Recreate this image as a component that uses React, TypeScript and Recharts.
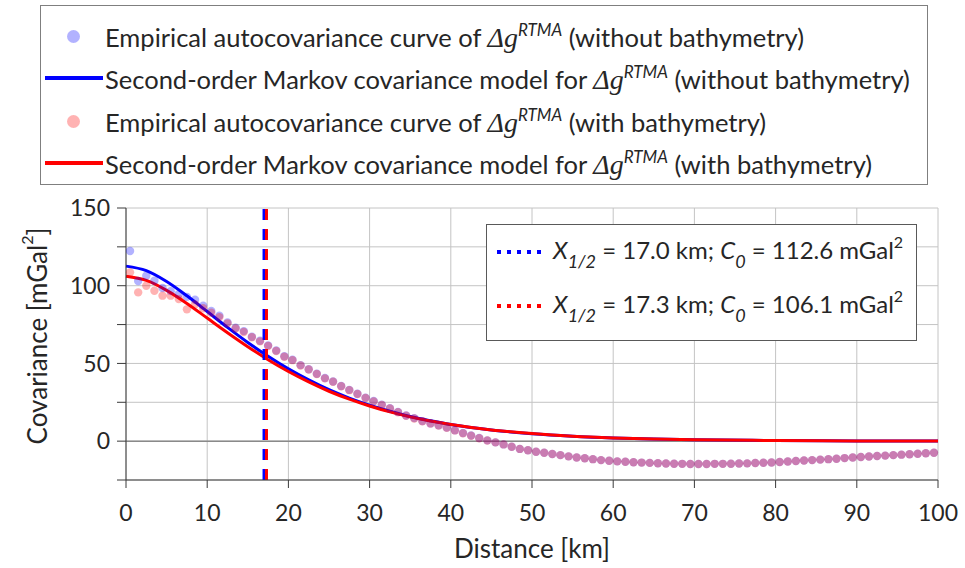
import React from "react";
import {
  ComposedChart,
  Scatter,
  Line,
  XAxis,
  YAxis,
  CartesianGrid,
  ReferenceLine,
  Label,
} from "recharts";

const FONT = "Lato, 'Open Sans', sans-serif";
const MATH = "'Liberation Serif', 'DejaVu Serif', serif";
const TEXT = "#262626";
const BLUE = "#0000ff";
const RED = "#ff0000";

// lag distances of the empirical autocovariance (km)
const lagKm = [
  0.5, 1.5, 2.5, 3.5, 4.5, 5.5, 6.5, 7.5, 8.5, 9.5,
  10.5, 11.5, 12.5, 13.5, 14.5, 15.5, 16.5, 17.5, 18.5, 19.5,
  20.5, 21.5, 22.5, 23.5, 24.5, 25.5, 26.5, 27.5, 28.5, 29.5,
  30.5, 31.5, 32.5, 33.5, 34.5, 35.5, 36.5, 37.5, 38.5, 39.5,
  40.5, 41.5, 42.5, 43.5, 44.5, 45.5, 46.5, 47.5, 48.5, 49.5,
  50.5, 51.5, 52.5, 53.5, 54.5, 55.5, 56.5, 57.5, 58.5, 59.5,
  60.5, 61.5, 62.5, 63.5, 64.5, 65.5, 66.5, 67.5, 68.5, 69.5,
  70.5, 71.5, 72.5, 73.5, 74.5, 75.5, 76.5, 77.5, 78.5, 79.5,
  80.5, 81.5, 82.5, 83.5, 84.5, 85.5, 86.5, 87.5, 88.5, 89.5,
  90.5, 91.5, 92.5, 93.5, 94.5, 95.5, 96.5, 97.5, 98.5, 99.5,
];

// empirical covariance, without bathymetry (mGal^2)
const covNoBathy = [
  122.3, 103.0, 106.4, 103.2, 98.5, 96.5, 94.5, 92.8, 91.0, 87.2,
  83.7, 80.7, 76.4, 73.0, 70.8, 67.2, 64.6, 61.6, 58.3, 54.6,
  52.4, 48.9, 46.3, 43.4, 40.6, 38.4, 35.5, 33.0, 30.5, 28.0,
  25.8, 23.5, 21.2, 18.8, 16.5, 14.8, 12.9, 11.4, 10.2, 8.7,
  7.0, 5.2, 3.6, 2.0, 0.5, -0.8, -2.1, -3.6, -5.0, -5.9,
  -6.8, -7.5, -8.3, -9.0, -9.8, -10.5, -11.0, -11.6, -12.2, -12.6,
  -13.0, -13.3, -13.6, -13.8, -14.0, -14.2, -14.4, -14.5, -14.6, -14.7,
  -14.7, -14.7, -14.6, -14.6, -14.5, -14.4, -14.3, -14.1, -13.9, -13.7,
  -13.4, -13.1, -12.8, -12.5, -12.2, -11.9, -11.6, -11.3, -10.9, -10.5,
  -10.2, -9.9, -9.6, -9.3, -9.0, -8.7, -8.4, -8.1, -7.8, -7.5,
];

// empirical covariance, with bathymetry (mGal^2)
const covBathy = [
  108.6, 95.7, 100.0, 96.8, 93.6, 93.6, 91.4, 84.8, 88.0, 85.5,
  82.6, 79.8, 75.8, 72.5, 70.2, 66.8, 64.2, 61.2, 58.0, 54.3,
  52.1, 48.7, 46.1, 43.2, 40.4, 38.2, 35.3, 32.8, 30.3, 27.8,
  25.6, 23.3, 21.0, 18.6, 16.3, 14.6, 12.8, 11.3, 10.1, 8.6,
  6.9, 5.1, 3.5, 1.9, 0.4, -0.8, -2.1, -3.6, -5.0, -5.9,
  -6.8, -7.5, -8.3, -9.0, -9.8, -10.5, -11.0, -11.6, -12.2, -12.6,
  -13.0, -13.3, -13.6, -13.8, -14.0, -14.2, -14.4, -14.5, -14.6, -14.7,
  -14.7, -14.7, -14.6, -14.6, -14.5, -14.4, -14.3, -14.1, -13.9, -13.7,
  -13.4, -13.1, -12.8, -12.5, -12.2, -11.9, -11.6, -11.3, -10.9, -10.5,
  -10.2, -9.9, -9.6, -9.3, -9.0, -8.7, -8.4, -8.1, -7.8, -7.5,
];

// second-order Markov model curves sampled along distance
const modelKm = [
  0, 2.5, 5, 7.5, 10, 12.5, 15, 17.5, 20, 22.5, 25, 27.5, 30, 32.5, 35,
  37.5, 40, 45, 50, 55, 60, 65, 70, 80, 90, 100,
];
const modelNoBathy = [
  112.6, 109.7, 102.7, 93.5, 83.4, 73.2, 63.5, 54.6, 46.5, 39.4, 33.1,
  27.7, 23.1, 19.2, 15.8, 13.1, 10.7, 7.2, 4.8, 3.2, 2.1, 1.4, 0.9, 0.4,
  0.15, 0.06,
];
const modelBathy = [
  106.1, 103.4, 97.0, 88.6, 79.2, 69.8, 60.8, 52.4, 44.8, 38.1, 32.1,
  27.0, 22.6, 18.8, 15.6, 12.9, 10.7, 7.2, 4.9, 3.2, 2.1, 1.4, 0.9, 0.4,
  0.17, 0.07,
];

// correlation lengths (km)
const halfNoBathy = 17.0;
const halfBathy = 17.3;

const xTicks = [0, 10, 20, 30, 40, 50, 60, 70, 80, 90, 100];
const yTicks = [-25, 0, 25, 50, 75, 100, 125, 150];

const empBlue = lagKm.map((d, i) => ({ d, c: covNoBathy[i] }));
const empRed = lagKm.map((d, i) => ({ d, c: covBathy[i] }));
const fitBlue = modelKm.map((d, i) => ({ d, c: modelNoBathy[i] }));
const fitRed = modelKm.map((d, i) => ({ d, c: modelBathy[i] }));

const dotShape = (color: string) => (p: any) =>
  <circle cx={p.cx} cy={p.cy} r={4.2} fill={color} fillOpacity={0.3} />;

const Dg = () => (
  <>
    <span style={{ fontFamily: MATH, fontStyle: "italic", fontSize: 28 }}>Δg</span>
    <sup style={{ fontStyle: "italic", fontSize: 17, verticalAlign: "11px" }}>RTMA</sup>
  </>
);

function TopRow({ top, marker, color, children }: any) {
  return (
    <div style={{ position: "absolute", left: 0, top: top - 18, height: 36, display: "flex", alignItems: "center" }}>
      <div style={{ width: 64, display: "flex", justifyContent: "center" }}>
        {marker === "dot" ? (
          <div style={{ width: 13, height: 13, borderRadius: 7, background: color, opacity: 0.3 }} />
        ) : (
          <div style={{ width: 58, height: 4, background: color, marginLeft: 2 }} />
        )}
      </div>
      <div style={{ whiteSpace: "nowrap" }}>{children}</div>
    </div>
  );
}

function InsetRow({ top, color, half, c0 }: any) {
  return (
    <div style={{ position: "absolute", left: 8, top: top - 20, height: 40, display: "flex", alignItems: "center", whiteSpace: "nowrap" }}>
      <svg width={52} height={8} style={{ marginRight: 6 }}>
        <line x1={2} y1={4} x2={50} y2={4} stroke={color} strokeWidth={4} strokeDasharray="4 6" />
      </svg>
      <span>
        <i>X</i>
        <sub style={{ fontStyle: "italic", fontSize: 18, verticalAlign: "-9px" }}>1/2</sub>
        {` = ${half} km; `}
        <i>C</i>
        <sub style={{ fontStyle: "italic", fontSize: 18, verticalAlign: "-9px" }}>0</sub>
        {` = ${c0} mGal`}
        <sup style={{ fontSize: 16, verticalAlign: "11px" }}>2</sup>
      </span>
    </div>
  );
}

const YTitle = ({ viewBox }: any) => {
  const cx = 37;
  const cy = viewBox.y + viewBox.height / 2 - 8;
  return (
    <text transform={`translate(${cx},${cy}) rotate(-90)`} textAnchor="middle" fill={TEXT} fontFamily={FONT} fontSize={26} dominantBaseline="central">
      Covariance [mGal<tspan fontSize={16} dy={-11}>2</tspan><tspan dy={11}>]</tspan>
    </text>
  );
};

export default function App() {
  return (
    <div style={{ position: "absolute", left: 0, top: 0, width: 965, height: 568, background: "#fff", fontFamily: FONT, color: TEXT }}>
      <ComposedChart width={965} height={568} margin={{ top: 208, right: 27, bottom: 0, left: 0 }}>
        <CartesianGrid stroke="#c4c4c4" strokeWidth={1} />
        <ReferenceLine y={0} stroke="#8a8a8a" strokeWidth={1.5} />
        <XAxis
          type="number"
          dataKey="d"
          domain={[0, 100]}
          ticks={xTicks}
          interval={0}
          height={88}
          tickSize={8}
          tickMargin={17}
          stroke="#3a3a3a"
          tick={{ fill: TEXT, fontSize: 23, fontFamily: FONT }}
        >
          <Label value="Distance [km]" position="insideBottom" offset={10} fill={TEXT} fontSize={26} fontFamily={FONT} />
        </XAxis>
        <YAxis
          type="number"
          domain={[-25, 150]}
          ticks={yTicks}
          interval={0}
          width={126}
          tickSize={9}
          tickMargin={7}
          stroke="#3a3a3a"
          tick={{ fill: TEXT, fontSize: 23, fontFamily: FONT }}
          tickFormatter={(v: number) => (v % 50 === 0 ? String(v) : "")}
        >
          <Label content={<YTitle />} />
        </YAxis>
        <Line data={fitBlue} dataKey="c" type="monotone" stroke={BLUE} strokeWidth={3} dot={false} isAnimationActive={false} />
        <Line data={fitRed} dataKey="c" type="monotone" stroke={RED} strokeWidth={3} dot={false} isAnimationActive={false} />
        <Scatter data={empBlue} dataKey="c" shape={dotShape(BLUE)} isAnimationActive={false} />
        <Scatter data={empRed} dataKey="c" shape={dotShape(RED)} isAnimationActive={false} />
        <ReferenceLine x={halfNoBathy} stroke={BLUE} strokeWidth={3} strokeDasharray="11 9" />
        <ReferenceLine x={halfBathy} stroke={RED} strokeWidth={3} strokeDasharray="11 9" />
      </ComposedChart>

      <div style={{ position: "absolute", left: 40, top: 5, width: 888, height: 180, border: "1.5px solid #7f7f7f", boxSizing: "border-box", background: "#fff", fontSize: 25.5 }}>
        <TopRow top={30} marker="dot" color={BLUE}>
          Empirical autocovariance curve of <Dg /> (without bathymetry)
        </TopRow>
        <TopRow top={72} marker="line" color={BLUE}>
          Second-order Markov covariance model for <Dg /> (without bathymetry)
        </TopRow>
        <TopRow top={115} marker="dot" color={RED}>
          Empirical autocovariance curve of <Dg /> (with bathymetry)
        </TopRow>
        <TopRow top={157} marker="line" color={RED}>
          Second-order Markov covariance model for <Dg /> (with bathymetry)
        </TopRow>
      </div>

      <div style={{ position: "absolute", left: 486, top: 224, width: 431, height: 117, border: "1.5px solid #595959", boxSizing: "border-box", background: "#fff", fontSize: 24 }}>
        <InsetRow top={27} color={BLUE} half="17.0" c0="112.6" />
        <InsetRow top={81} color={RED} half="17.3" c0="106.1" />
      </div>
    </div>
  );
}
